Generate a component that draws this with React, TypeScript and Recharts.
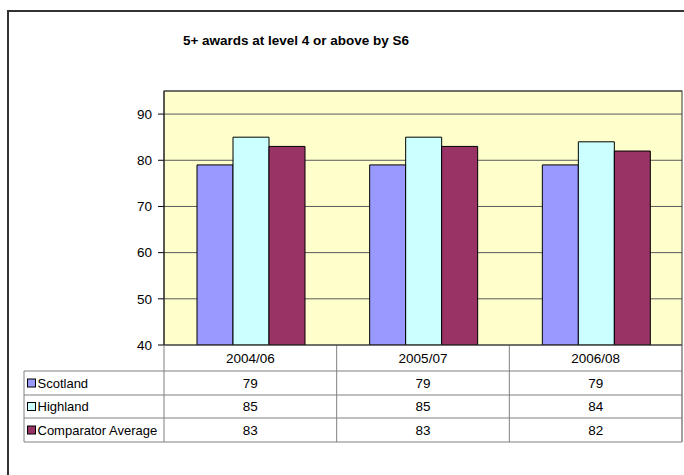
import React from 'react';
import { BarChart, Bar, XAxis, YAxis, CartesianGrid } from 'recharts';

const categories = ['2004/06', '2005/07', '2006/08'];
const scotland = [79, 79, 79];
const highland = [85, 85, 84];
const comparator = [83, 83, 82];
const seriesNames = ['Scotland', 'Highland', 'Comparator Average'];
const yTicks = [40, 50, 60, 70, 80, 90];

const COLORS = ['#9999FF', '#CCFFFF', '#993366'];
const FONT = '"Liberation Sans", Arial, sans-serif';

const data = categories.map((name, i) => ({
  name,
  scotland: scotland[i],
  highland: highland[i],
  comparator: comparator[i],
}));
const seriesValues = [scotland, highland, comparator];

// layout (pixels)
const W = 684;
const H = 475;
const PLOT_LEFT = 164;
const PLOT_RIGHT = 682;
const PLOT_TOP = 91;
const PLOT_BOTTOM = 345;
const TABLE_LEFT = 24;
const ROW_LINES = [371, 395, 418, 442];
const ROW_MID = [358, 383, 406.5, 430];
const BAND = (PLOT_RIGHT - PLOT_LEFT) / categories.length;
const GRID = '#808080';
const FS = 13;

// data table under the plot, one column per category tick
const TableTick = (props: any) => {
  const { x, payload } = props;
  const i = payload.index;
  return (
    <g>
      <line x1={x + BAND / 2} x2={x + BAND / 2} y1={PLOT_BOTTOM} y2={ROW_LINES[3]} stroke={GRID} />
      <text x={x} y={ROW_MID[0]} textAnchor="middle" dominantBaseline="central" fontSize={FS + 0.5} fontFamily={FONT} fill="#000">
        {payload.value}
      </text>
      {seriesValues.map((vals, s) => (
        <text key={s} x={x} y={ROW_MID[s + 1]} textAnchor="middle" dominantBaseline="central" fontSize={FS + 0.5} fontFamily={FONT} fill="#000">
          {vals[i]}
        </text>
      ))}
    </g>
  );
};

export default function App() {
  return (
    <div style={{ position: 'absolute', left: 0, top: 0, width: W, height: H, overflow: 'hidden', background: '#fff' }}>
      <div
        style={{
          position: 'absolute',
          left: 7,
          top: 10,
          width: 720,
          height: 520,
          border: '2px solid #333',
          boxSizing: 'border-box',
        }}
      />
      <div style={{ position: 'absolute', left: 0, top: 0 }}>
        <BarChart
          width={W}
          height={H}
          data={data}
          margin={{ top: PLOT_TOP, right: W - PLOT_RIGHT, left: PLOT_LEFT - 50, bottom: 0 }}
          barCategoryGap={33}
          barGap={0}
        >
          <CartesianGrid vertical={false} stroke="#5a5a5a" fill="#FFFFCC" fillOpacity={1} />
          <XAxis
            dataKey="name"
            height={H - PLOT_BOTTOM}
            axisLine={false}
            tickLine={false}
            interval={0}
            tick={<TableTick />}
          />
          <YAxis
            width={50}
            domain={[40, 95]}
            ticks={yTicks}
            allowDataOverflow
            axisLine={{ stroke: '#000' }}
            tickLine={{ stroke: '#000' }}
            tickSize={6}
            tickMargin={6}
            tick={{ fill: '#000', fontSize: FS + 0.5, fontFamily: FONT }}
          />
          <Bar dataKey="scotland" name={seriesNames[0]} fill={COLORS[0]} stroke="#000" strokeWidth={1} isAnimationActive={false} />
          <Bar dataKey="highland" name={seriesNames[1]} fill={COLORS[1]} stroke="#000" strokeWidth={1} isAnimationActive={false} />
          <Bar dataKey="comparator" name={seriesNames[2]} fill={COLORS[2]} stroke="#000" strokeWidth={1} isAnimationActive={false} />
        </BarChart>
      </div>
      <svg width={W} height={H} style={{ position: 'absolute', left: 0, top: 0, pointerEvents: 'none' }}>
        <text x={296} y={40} textAnchor="middle" dominantBaseline="central" fontSize={13.5} fontWeight="bold" fontFamily={FONT} fill="#000">
          5+ awards at level 4 or above by S6
        </text>
        <rect x={PLOT_LEFT} y={PLOT_TOP} width={PLOT_RIGHT - PLOT_LEFT} height={PLOT_BOTTOM - PLOT_TOP} fill="none" stroke="#333" />
        {/* table frame */}
        <line x1={PLOT_LEFT} x2={PLOT_LEFT} y1={PLOT_BOTTOM} y2={ROW_LINES[3]} stroke={GRID} />
        <line x1={TABLE_LEFT} x2={TABLE_LEFT} y1={ROW_LINES[0]} y2={ROW_LINES[3]} stroke={GRID} />
        <line x1={PLOT_RIGHT} x2={PLOT_RIGHT} y1={PLOT_BOTTOM} y2={ROW_LINES[3]} stroke={GRID} />
        {ROW_LINES.map((y) => (
          <line key={y} x1={TABLE_LEFT} x2={PLOT_RIGHT} y1={y} y2={y} stroke={GRID} />
        ))}
        {seriesNames.map((name, s) => (
          <g key={name}>
            <rect x={27.5} y={ROW_MID[s + 1] - 4} width={8} height={8} fill={COLORS[s]} stroke="#000" />
            <text x={37.5} y={ROW_MID[s + 1]} dominantBaseline="central" fontSize={FS} fontFamily={FONT} fill="#000">
              {name}
            </text>
          </g>
        ))}
      </svg>
    </div>
  );
}
